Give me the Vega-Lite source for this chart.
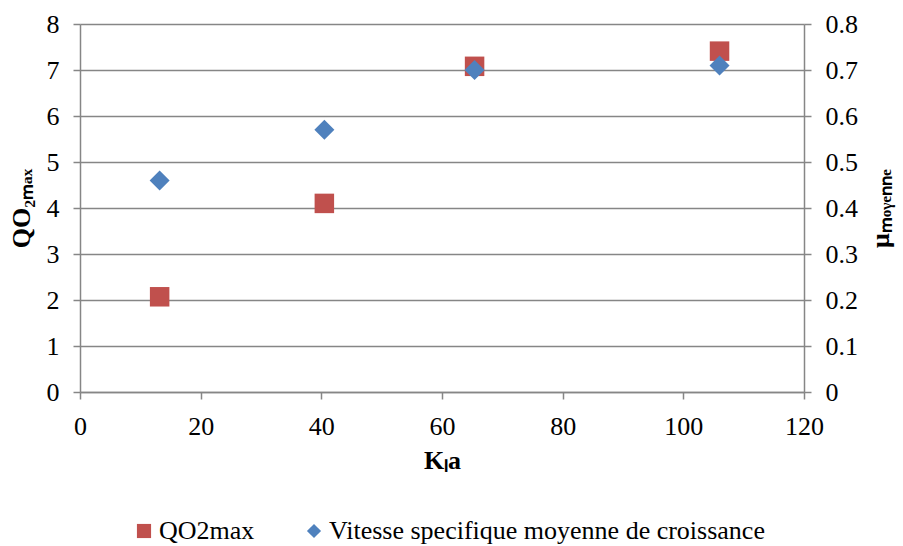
{
  "$schema": "https://vega.github.io/schema/vega-lite/v6.json",
  "width": 724,
  "height": 368,
  "autosize": {"type": "none"},
  "padding": {"left": 80, "top": 24, "right": 99, "bottom": 154},
  "background": "white",
  "config": {
    "font": "Liberation Serif, Times New Roman, serif",
    "view": {"stroke": null},
    "axis": {
      "labelFont": "Liberation Serif, Times New Roman, serif",
      "titleFont": "Liberation Serif, Times New Roman, serif",
      "labelFontSize": 26,
      "titleFontSize": 26,
      "labelColor": "black",
      "titleColor": "black",
      "titleFontWeight": "bold",
      "labelFlush": false,
      "domainColor": "#868686",
      "tickColor": "#868686",
      "gridColor": "#868686",
      "domainWidth": 1.5,
      "tickWidth": 1.5,
      "gridWidth": 1.5,
      "tickSize": 7,
      "labelPadding": 14
    },
    "legend": {
      "labelFont": "Liberation Serif, Times New Roman, serif",
      "labelFontSize": 26,
      "labelColor": "black",
      "labelLimit": 0,
      "orient": "none",
      "legendX": 51,
      "legendY": 494,
      "direction": "horizontal",
      "symbolSize": 200,
      "labelOffset": 2,
      "columnPadding": 46,
      "symbolStrokeWidth": 0
    }
  },
  "data": {
    "values": [
      {"kla": 13.2, "series": "QO2max", "value": 2.07},
      {"kla": 40.5, "series": "QO2max", "value": 4.1},
      {"kla": 65.4, "series": "QO2max", "value": 7.08},
      {"kla": 106.0, "series": "QO2max", "value": 7.41},
      {"kla": 13.2, "series": "Vitesse specifique moyenne de croissance", "value": 0.46},
      {"kla": 40.5, "series": "Vitesse specifique moyenne de croissance", "value": 0.57},
      {"kla": 65.4, "series": "Vitesse specifique moyenne de croissance", "value": 0.70},
      {"kla": 106.0, "series": "Vitesse specifique moyenne de croissance", "value": 0.71}
    ]
  },
  "encoding": {
    "x": {
      "field": "kla",
      "type": "quantitative",
      "scale": {"domain": [0, 120], "nice": false},
      "axis": {
        "values": [0, 20, 40, 60, 80, 100, 120],
        "grid": false,
        "title": "Kₗa",
        "titlePadding": 8
      }
    },
    "color": {
      "field": "series",
      "type": "nominal",
      "scale": {
        "domain": ["QO2max", "Vitesse specifique moyenne de croissance"],
        "range": ["#C0504D", "#4F81BD"]
      },
      "legend": {"title": null}
    },
    "shape": {
      "field": "series",
      "type": "nominal",
      "scale": {
        "domain": ["QO2max", "Vitesse specifique moyenne de croissance"],
        "range": ["square", "diamond"]
      },
      "legend": {"title": null}
    }
  },
  "layer": [
    {
      "transform": [{"filter": "datum.series === 'QO2max'"}],
      "mark": {"type": "point", "filled": true, "opacity": 1, "size": 380, "strokeWidth": 0},
      "encoding": {
        "y": {
          "field": "value",
          "type": "quantitative",
          "scale": {"domain": [0, 8], "nice": false},
          "axis": {
            "orient": "left",
            "values": [0, 1, 2, 3, 4, 5, 6, 7, 8],
            "grid": true,
            "title": "QO₂ₘₐₓ",
            "titlePadding": 12
          }
        }
      }
    },
    {
      "transform": [{"filter": "datum.series !== 'QO2max'"}],
      "mark": {"type": "point", "filled": true, "opacity": 1, "size": 400, "strokeWidth": 0},
      "encoding": {
        "y": {
          "field": "value",
          "type": "quantitative",
          "scale": {"domain": [0, 0.8], "nice": false},
          "axis": {
            "orient": "right",
            "values": [0, 0.1, 0.2, 0.3, 0.4, 0.5, 0.6, 0.7, 0.8],
            "format": ".1~f",
            "grid": false,
            "title": "μₘₒᵧₑₙₙₑ",
            "titleAngle": 270,
            "titlePadding": 36
          }
        }
      }
    }
  ],
  "resolve": {"scale": {"y": "independent"}}
}
